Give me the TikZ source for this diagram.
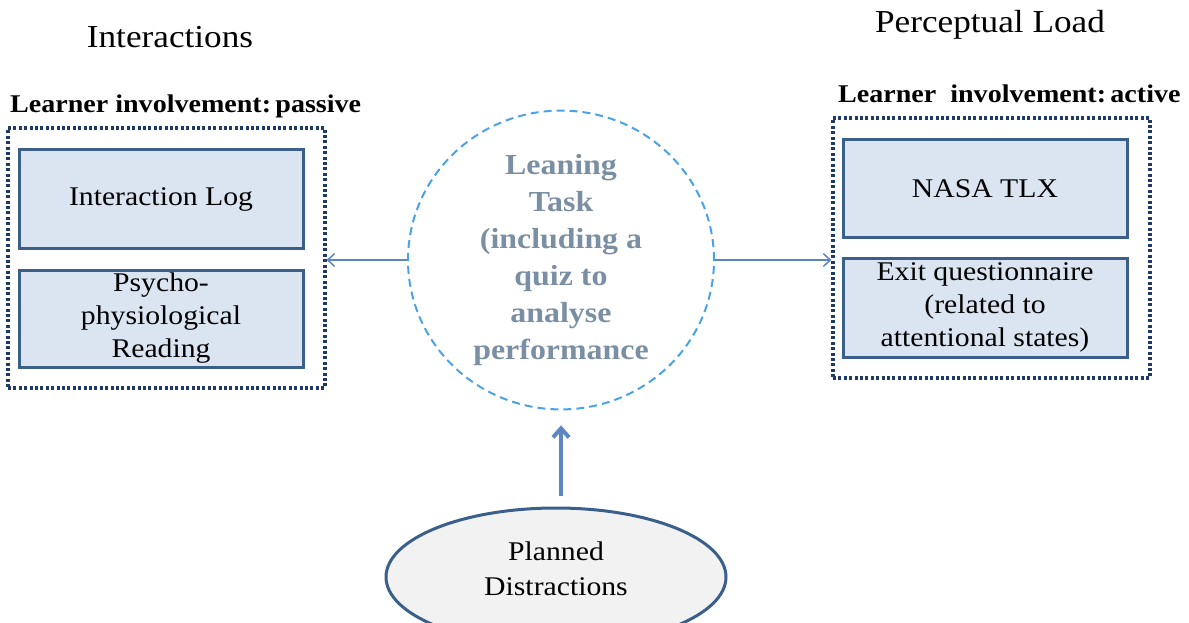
\documentclass[tikz,border=0pt]{standalone}
\usepackage{fontspec}
\setmainfont[FakeStretch=1.1]{Liberation Serif}
\usetikzlibrary{shapes.geometric,arrows.meta}
\definecolor{boxfill}{HTML}{DBE5F1}
\definecolor{boxline}{HTML}{3A5F8B}
\definecolor{dotline}{HTML}{1F3A66}
\definecolor{circline}{HTML}{4AA3E6}
\definecolor{circtext}{HTML}{7A8FA3}
\definecolor{arrowc}{HTML}{5B86BF}
\definecolor{ellfill}{HTML}{F2F2F2}
\tikzset{
  title/.style={inner sep=0pt, anchor=base, font=\fontsize{32}{38}\selectfont},
  involve/.style={inner sep=0pt, anchor=base west, font=\bfseries\fontsize{25.5}{30}\selectfont},
  outerbox/.style={draw=dotline, line width=3.2pt, dash pattern=on 3pt off 2.4pt, minimum width=317pt, minimum height=260pt, inner sep=0pt},
  innerbox/.style={draw=boxline, fill=boxfill, line width=3pt, minimum width=284pt, inner sep=0pt, align=center, font=\fontsize{27}{33}\selectfont},
  taskcirc/.style={ellipse, draw=circline, line width=2pt, dash pattern=on 8pt off 5pt, minimum width=306pt, minimum height=294pt, inner sep=0pt, align=center, text=circtext, font=\bfseries\fontsize{29}{37}\selectfont},
  distr/.style={ellipse, draw=boxline, fill=ellfill, line width=3pt, minimum width=340pt, minimum height=138pt, inner sep=0pt},
  distrtext/.style={inner sep=0pt, align=center, font=\fontsize{27}{35}\selectfont},
  thinarrow/.style={draw=arrowc, line width=1.5pt, -{Straight Barb[length=7pt,width=13pt]}},
  thickarrow/.style={draw=arrowc, line width=4pt, -{Straight Barb[length=9pt,width=16pt]}}
}
\begin{document}
\begin{tikzpicture}[x=1pt,y=-1pt]
\useasboundingbox (0,0) rectangle (1189,623);
% titles
\node[title] (tInter) at (170,48) {Interactions};
\node[title] (tPerc) at (990,33) {Perceptual Load};
\node[involve] (invP) at (10,113) {Learner involvement:\,passive};
\node[involve] (invA) at (838,103) {Learner\ \ involvement:\,active};
% left group
\node[outerbox] (left) at (166.5,258) {};
\node[innerbox, minimum height=98pt] (ilog) at (161,199) {Interaction Log};
\node[innerbox, minimum height=97pt] (psy) at (161,318.5) {Psycho-\\physiological\\Reading};
% right group
\node[outerbox] (right) at (991.5,248) {};
\node[innerbox, minimum height=97pt] (nasa) at (985,188.5) {NASA TLX};
\node[innerbox, minimum height=99pt] (exit) at (985,307.5) {Exit questionnaire\\(related to\\attentional states)};
% centre
\node[taskcirc] (task) at (561,260) {Leaning\\Task\\(including a\\quiz to\\analyse\\performance};
\node[distr] (plan) at (556,577) {};
\node[distrtext] (plantext) at (556,569) {Planned\\Distractions};
% connectors
\draw[thinarrow] (task.west) -- (task.west -| left.east);
\draw[thinarrow] (task.east) -- (task.east -| right.west);
\draw[thickarrow, shorten <=11pt, shorten >=15pt] (plan.north -| task.south) -- (task.south);
\end{tikzpicture}
\end{document}
